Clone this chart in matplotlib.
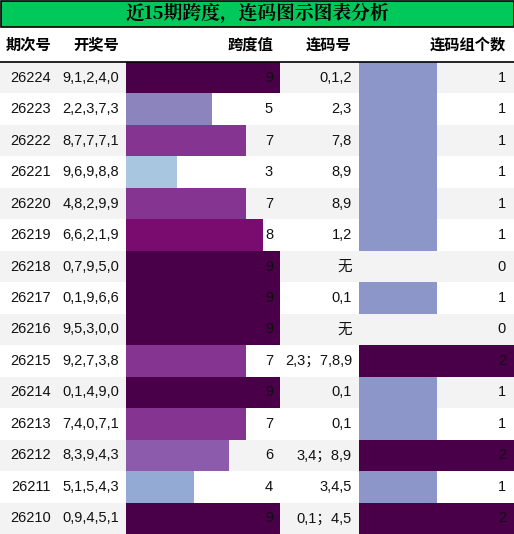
import matplotlib.pyplot as plt
from matplotlib.patches import Rectangle

plt.rcParams['font.family'] = ['Liberation Sans', 'Noto Sans CJK SC', 'DejaVu Sans']

issues = ["26224", "26223", "26222", "26221", "26220", "26219", "26218", "26217",
          "26216", "26215", "26214", "26213", "26212", "26211", "26210"]
draws = ["9,1,2,4,0", "2,2,3,7,3", "8,7,7,7,1", "9,6,9,8,8", "4,8,2,9,9", "6,6,2,1,9",
         "0,7,9,5,0", "0,1,9,6,6", "9,5,3,0,0", "9,2,7,3,8", "0,1,4,9,0", "7,4,0,7,1",
         "8,3,9,4,3", "5,1,5,4,3", "0,9,4,5,1"]
spans = [9, 5, 7, 3, 7, 8, 9, 9, 9, 7, 9, 7, 6, 4, 9]
runs = ["0,1,2", "2,3", "7,8", "8,9", "8,9", "1,2", "无", "0,1", "无", "2,3；7,8,9",
        "0,1", "0,1", "3,4；8,9", "3,4,5", "0,1；4,5"]
run_counts = [1, 1, 1, 1, 1, 1, 0, 1, 0, 2, 1, 1, 2, 1, 2]
headers = ["期次号", "开奖号", "跨度值", "连码号", "连码组个数"]

span_colors = {3: "#a8c6e0", 4: "#93aad4", 5: "#8b84bd", 6: "#8c5bab",
               7: "#853591", 8: "#7a0c70", 9: "#4a0048"}
count_colors = {1: "#8c96c8", 2: "#4a0048"}

W, H = 514, 534
fig = plt.figure(figsize=(W / 100, H / 100), dpi=100)
ax = fig.add_axes([0, 0, 1, 1])
ax.set_xlim(0, W)
ax.set_ylim(H, 0)
ax.axis("off")

# title bar
ax.add_patch(Rectangle((0.5, 0.5), W - 1, 26.5, facecolor="#00c85a", edgecolor="black", lw=1.2))
ax.text(W / 2, 14, "近15期跨度，连码图示图表分析", ha="center", va="center",
        fontsize=13.5, fontweight="bold", family=["Noto Serif CJK SC", "Noto Sans CJK SC", "DejaVu Sans"])

cols_right = [51, 119, 273, 352, 506]
hy = 45
for x, h in zip(cols_right, headers):
    ax.text(x, hy, h, ha="right", va="center", fontsize=11, fontweight="bold")
ax.plot([0, W], [62, 62], color="black", lw=1.2)

top = 62
rh = (H - top) / len(issues)
span_x0, span_w = 126, 154
cnt_x0, cnt_w = 359, 155
for i in range(len(issues)):
    y0 = top + i * rh
    yc = y0 + rh / 2
    if i % 2 == 0:
        ax.add_patch(Rectangle((0, y0), W, rh, facecolor="#f3f3f3", edgecolor="none"))
    s = spans[i]
    ax.add_patch(Rectangle((span_x0, y0), span_w * s / 9, rh, facecolor=span_colors[s], edgecolor="none"))
    c = run_counts[i]
    if c:
        ax.add_patch(Rectangle((cnt_x0, y0), cnt_w * c / 2, rh, facecolor=count_colors[c], edgecolor="none"))
    for x, t in zip(cols_right, [issues[i], draws[i], str(s), runs[i], str(c)]):
        ax.text(x, yc, t, ha="right", va="center", fontsize=10.5, color="#111111")

fig.savefig("out.png", dpi=100)
